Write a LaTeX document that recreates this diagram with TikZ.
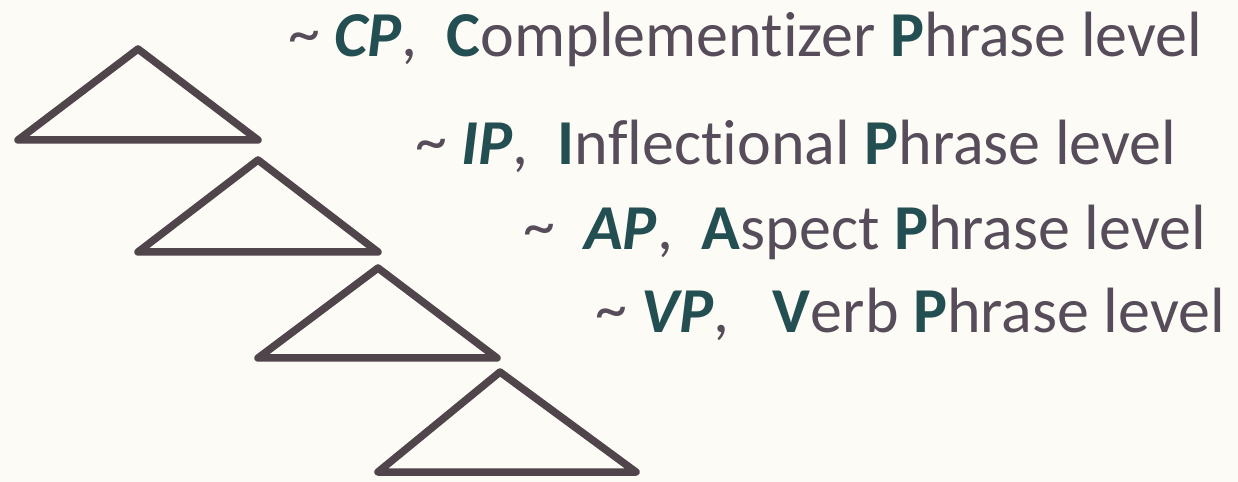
\documentclass[tikz,border=0pt]{standalone}
\usepackage{fontspec}
\setmainfont{Carlito}[Ligatures={NoCommon}]
\usepackage{tikz}
\usetikzlibrary{positioning}

\definecolor{paper}{HTML}{FCFBF6}
\definecolor{ink}{HTML}{574C59}
\definecolor{teal}{HTML}{244F52}
\definecolor{edge}{HTML}{4F454B}

\newcommand{\lvl}[1]{\textcolor{teal}{\textbf{\textit{#1}}}}
\newcommand{\initial}[1]{\textcolor{teal}{\textbf{#1}}}
\newcommand{\tld}{\raisebox{2bp}{\textasciitilde}}

\begin{document}
\begin{tikzpicture}[x=1bp,y=-1bp,line join=round,line cap=round]
  \tikzstyle{tri}=[draw=edge,line width=7.5bp]
  \tikzstyle{every node}=[font=\fontsize{64bp}{70bp}\selectfont,text=ink,anchor=base west,inner sep=0pt]

  \fill[paper] (0,0) rectangle (1238,482);
  \useasboundingbox (0,0) rectangle (1238,482);

  % the four triangles
  \coordinate (cp) at (138,49);
  \coordinate (ip) at (258,160);
  \coordinate (ap) at (378,268);
  \coordinate (vp) at (500,372);
  \draw[tri] (cp) -- (18,140) -- (258,140) -- cycle;
  \draw[tri] (ip) -- (138,252) -- (378,252) -- cycle;
  \draw[tri] (ap) -- (258,358) -- (497,358) -- cycle;
  \draw[tri] (vp) -- (378,472) -- (636,472) -- cycle;

  % level labels
  \node (cptext) at (288,57) {\tld\ \lvl{CP},\ \ \initial{C}omplementizer \initial{P}hrase level};
  \node (iptext) at (415,165) {\tld\ \lvl{IP},\ \ \initial{I}nflectional \initial{P}hrase level};
  \node (aptext) at (523,250) {\tld\ \ \lvl{AP},\ \ \initial{A}spect \initial{P}hrase level};
  \node (vptext) at (595,333) {\tld\ \lvl{VP},\ \ \ \initial{V}erb \initial{P}hrase level};
\end{tikzpicture}
\end{document}
